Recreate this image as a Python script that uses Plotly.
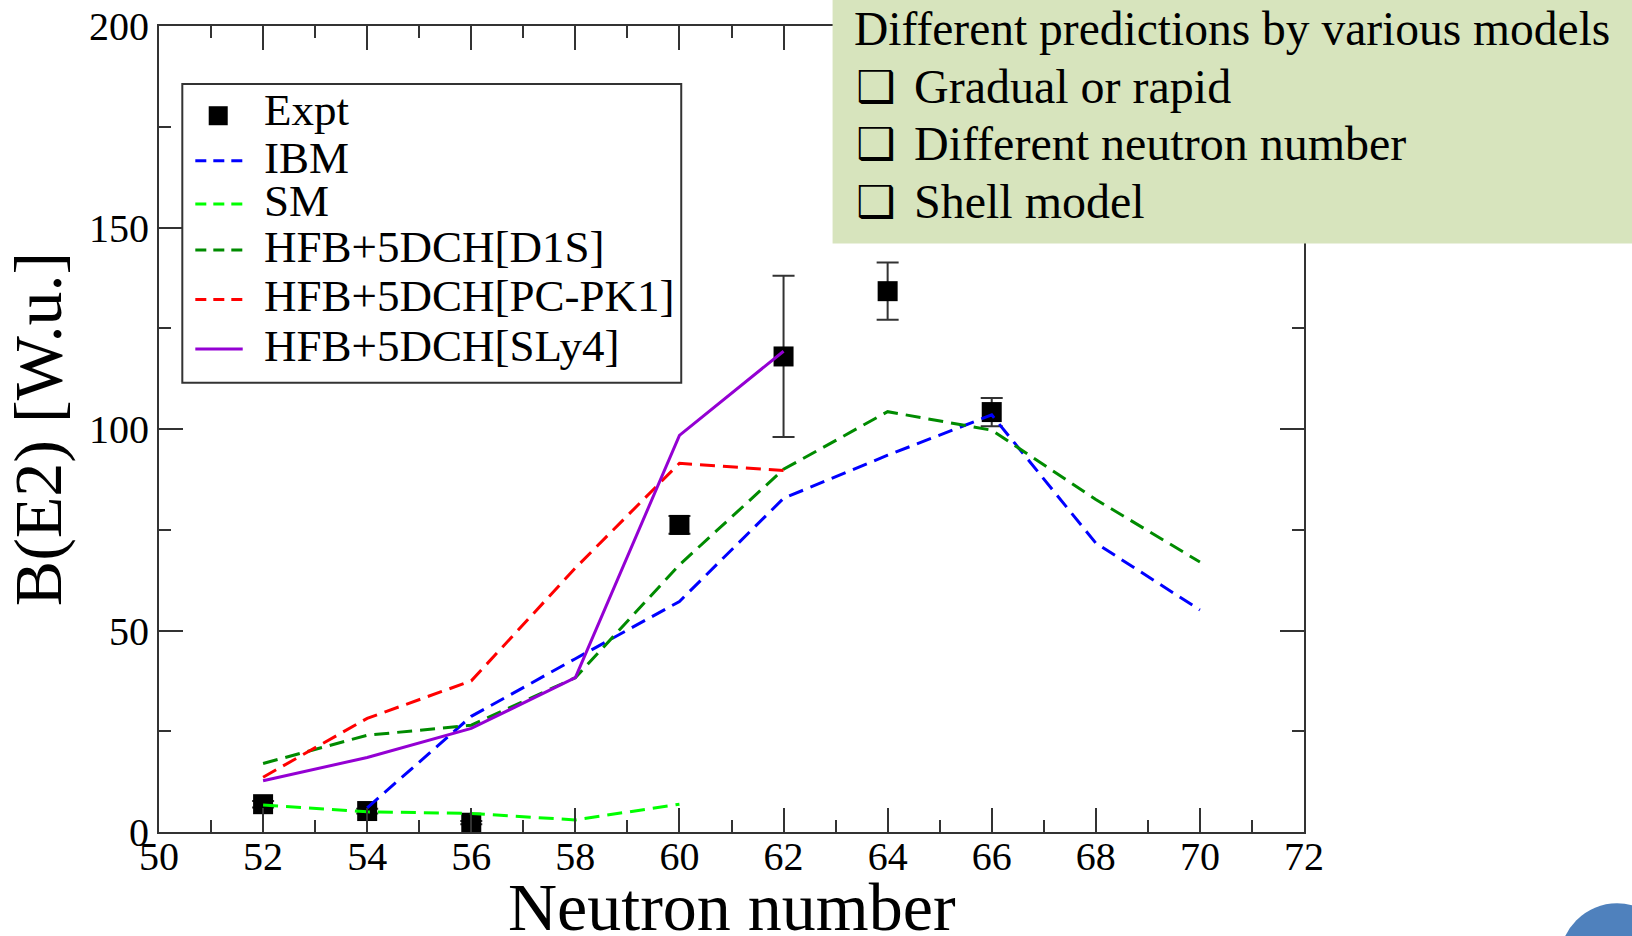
import plotly.graph_objects as go

# ---- data -------------------------------------------------------------
expt_n = [52, 54, 56, 60, 62, 64, 66]
expt_be2 = [6.9, 5.2, 2.3, 76.2, 118.0, 134.2, 104.2]
expt_err = [0.8, 0.6, 0.4, 2.2, 20.0, 7.1, 3.5]

ibm_n = [54, 56, 58, 60, 62, 64, 66, 68, 70]
ibm_be2 = [6.0, 28.7, 43.0, 57.2, 82.8, 93.5, 103.5, 71.7, 55.1]

sm_n = [52, 54, 56, 58, 60]
sm_be2 = [6.7, 5.0, 4.6, 3.0, 6.9]

d1s_n = [52, 54, 56, 58, 60, 62, 64, 66, 68, 70]
d1s_be2 = [17.0, 24.0, 26.5, 38.3, 66.3, 90.0, 104.3, 99.7, 82.5, 67.0]

pcpk1_n = [52, 54, 56, 58, 60, 62]
pcpk1_be2 = [13.6, 28.2, 37.5, 65.5, 91.5, 89.7]

sly4_n = [52, 54, 56, 58, 60, 62]
sly4_be2 = [12.7, 18.5, 25.7, 38.3, 98.4, 119.3]

x_ticks = list(range(50, 73, 2))
y_ticks = [0, 50, 100, 150, 200]

x_title = "Neutron number"
y_title = "B(E2) [W.u.]"
bullet_lines = ["Gradual or rapid", "Different neutron number", "Shell model"]
box_heading = "Different predictions by various models"

# ---- page geometry (pixels) --------------------------------------------
W, H = 1632, 936
L, R, T, B = 159.3, 1304.0, 26.0, 831.7


def px(x):
    return (x - L) / (R - L)


def py(y):
    return (B - y) / (B - T)


SERIF = "Liberation Serif, Times New Roman, serif"
AXIS_COL = "#333333"
DASH = "15px,8px"

models = [
    ("IBM", ibm_n, ibm_be2, "#0000ff", DASH),
    ("SM", sm_n, sm_be2, "#00ff00", DASH),
    ("HFB+5DCH[D1S]", d1s_n, d1s_be2, "#008b00", DASH),
    ("HFB+5DCH[PC-PK1]", pcpk1_n, pcpk1_be2, "#ff0000", DASH),
    ("HFB+5DCH[SLy4]", sly4_n, sly4_be2, "#9400d3", "solid"),
]

fig = go.Figure()

fig.add_trace(go.Scatter(
    x=expt_n, y=expt_be2, mode="markers", name="Expt",
    marker=dict(symbol="square", size=20, color="black"),
    error_y=dict(type="data", array=expt_err, color=AXIS_COL,
                 thickness=2, width=11),
    showlegend=False,
))

for name, xs, ys, col, dash in models:
    fig.add_trace(go.Scatter(
        x=xs, y=ys, mode="lines", name=name,
        line=dict(color=col, width=3, dash=dash),
        showlegend=False,
    ))

axis_common = dict(
    showline=True, linecolor=AXIS_COL, linewidth=2, mirror="allticks",
    ticks="inside", ticklen=24, tickwidth=1.5, tickcolor=AXIS_COL,
    showgrid=False, zeroline=False, automargin=False,
    tickfont=dict(family=SERIF, size=40, color="black"),
)

fig.update_xaxes(
    range=[50, 72], tickvals=x_ticks, ticktext=[str(v) for v in x_ticks],
    minor=dict(ticks="inside", ticklen=12, dtick=1, tickwidth=1.5,
               tickcolor=AXIS_COL),
    ticklabelstandoff=-12,
    **axis_common,
)
fig.update_yaxes(
    range=[0, 200], tickvals=y_ticks, ticktext=[str(v) for v in y_ticks],
    minor=dict(ticks="inside", ticklen=12, dtick=25, tickwidth=1.5,
               tickcolor=AXIS_COL),
    ticklabelstandoff=0,
    title=dict(text=y_title, font=dict(family=SERIF, size=68,
                                       color="black"), standoff=14),
    **axis_common,
)

shapes = []
annotations = []

# x-axis title, set low in the bottom margin
annotations.append(dict(xref="paper", yref="paper", x=0.5, y=py(907),
                        text=x_title, xanchor="center", yanchor="middle",
                        showarrow=False,
                        font=dict(family=SERIF, size=68, color="black")))

# legend frame and entries
shapes.append(dict(type="rect", xref="paper", yref="paper",
                   x0=px(182.6), x1=px(681.4), y0=py(382.7), y1=py(84.0),
                   fillcolor="white", line=dict(color=AXIS_COL, width=2),
                   layer="above"))

legend_rows = [115.7, 160.7, 204.0, 250.0, 299.3, 349.0]
shapes.append(dict(type="rect", xref="paper", yref="paper",
                   x0=px(209), x1=px(228),
                   y0=py(legend_rows[0] + 9.5), y1=py(legend_rows[0] - 9.5),
                   fillcolor="black", line=dict(width=0), layer="above"))
annotations.append(dict(xref="paper", yref="paper", x=px(262),
                        y=py(legend_rows[0] - 6), text="Expt",
                        xanchor="left", yanchor="middle", showarrow=False,
                        font=dict(family=SERIF, size=45, color="black")))
for (name, _, _, col, dash), yrow in zip(models, legend_rows[1:]):
    shapes.append(dict(type="line", xref="paper", yref="paper",
                       x0=px(195.6), x1=px(243), y0=py(yrow), y1=py(yrow),
                       line=dict(color=col, width=3,
                                 dash="11px,7px" if dash != "solid" else "solid"),
                       layer="above"))
    annotations.append(dict(xref="paper", yref="paper", x=px(262),
                            y=py(yrow - 3), text=name,
                            xanchor="left", yanchor="middle", showarrow=False,
                            font=dict(family=SERIF, size=45, color="black")))

# note panel in the upper right corner
shapes.append(dict(type="rect", xref="paper", yref="paper",
                   x0=px(832.7), x1=px(W + 5), y0=py(243.3), y1=py(-5),
                   fillcolor="#d7e4bd", line=dict(width=0), layer="above"))
annotations.append(dict(xref="paper", yref="paper", x=px(852), y=py(29),
                        text=box_heading, xanchor="left", yanchor="middle",
                        showarrow=False,
                        font=dict(family=SERIF, size=47.5, color="black")))
for i, line in enumerate(bullet_lines):
    yc = 86 + i * 57.5
    annotations.append(dict(xref="paper", yref="paper", x=px(854), y=py(yc),
                            text="❑", xanchor="left", yanchor="middle",
                            showarrow=False,
                            font=dict(family="DejaVu Sans", size=44,
                                      color="black")))
    annotations.append(dict(xref="paper", yref="paper", x=px(912), y=py(yc),
                            text=line, xanchor="left", yanchor="middle",
                            showarrow=False,
                            font=dict(family=SERIF, size=48, color="black")))

# slide corner ornament
shapes.append(dict(type="circle", xref="paper", yref="paper",
                   x0=px(1617 - 57.5), x1=px(1617 + 57.5),
                   y0=py(960.5 + 57.5), y1=py(960.5 - 57.5),
                   fillcolor="#4f81bd", line=dict(width=0), layer="above"))

fig.update_layout(
    width=W, height=H,
    margin=dict(l=L, r=W - R, t=T, b=H - B, pad=0, autoexpand=False),
    paper_bgcolor="white", plot_bgcolor="white",
    shapes=shapes, annotations=annotations,
    showlegend=False,
    font=dict(family=SERIF, color="black"),
)

fig.write_html("out.html")
